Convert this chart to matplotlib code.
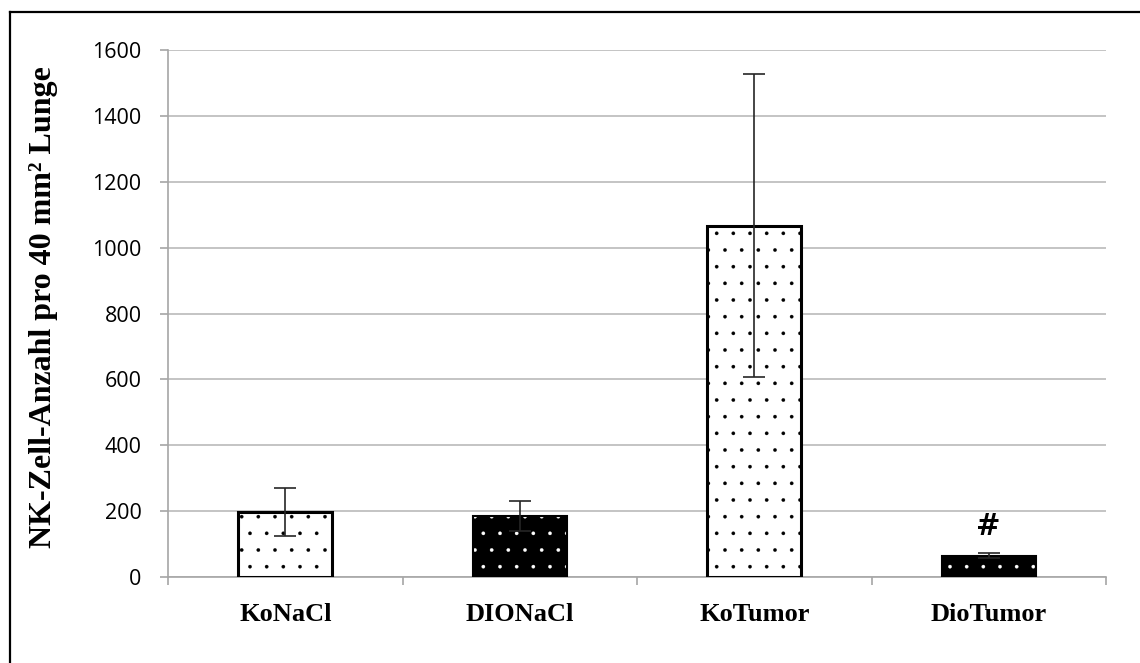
import matplotlib.pyplot as plt
from matplotlib.lines import Line2D

# values
groups = ["KoNaCl", "DIONaCl", "KoTumor", "DioTumor"]
means = [197, 185, 1066, 65]
sds = [72, 46, 460, 8]
dark = [False, True, False, True]
y_ticks = [0, 200, 400, 600, 800, 1000, 1200, 1400, 1600]

plt.rcParams['hatch.linewidth'] = 0.2

fig = plt.figure(figsize=(11.4, 6.63), dpi=100)
ax = fig.add_axes([168 / 1140, 1 - 577 / 663, 938 / 1140, 527 / 663])

x = list(range(len(groups)))
grid_col = "#bfbfbf"
axis_col = "#a6a6a6"

for xi, m, d in zip(x, means, dark):
    if d:
        # black bar, white dots, black outline on top
        ax.bar(xi, m, width=0.4, facecolor="black", edgecolor="white",
               hatch=".", linewidth=0, zorder=3)
        ax.bar(xi, m, width=0.4, fill=False, edgecolor="black",
               linewidth=1.5, zorder=4)
    else:
        ax.bar(xi, m, width=0.4, facecolor="white", edgecolor="black",
               hatch=".", linewidth=2.2, zorder=3)

ax.errorbar(x, means, yerr=sds, fmt="none", ecolor="#262626",
            elinewidth=1.2, capsize=8, capthick=1.2, zorder=5)

# significance marker
ax.text(3, 152, "#", ha="center", va="center", fontsize=21,
        fontweight="bold", family="DejaVu Serif", zorder=6)

ax.set_xlim(-0.5, 3.5)
ax.set_ylim(0, 1600)
ax.set_yticks(y_ticks)
ax.set_yticklabels([str(v) for v in y_ticks], family="Open Sans", fontsize=15.5)
ax.set_xticks(x)
ax.set_xticklabels(groups, family="Liberation Serif", fontweight="bold",
                   fontsize=19)
ax.set_xticks([-0.5, 0.5, 1.5, 2.5, 3.5], minor=True)
ax.tick_params(axis="x", which="major", length=0, pad=19)
ax.tick_params(axis="x", which="minor", length=6, color=axis_col, width=1.2)
ax.tick_params(axis="y", length=6, color=axis_col, width=1.2, pad=13)

ax.yaxis.grid(True, color=grid_col, linewidth=1.3, zorder=0)
ax.set_axisbelow(True)
for s in ["top", "right"]:
    ax.spines[s].set_visible(False)
for s in ["left", "bottom"]:
    ax.spines[s].set_color(axis_col)
    ax.spines[s].set_linewidth(1.2)

fig.text(44 / 1140, 1 - 307 / 663, "NK-Zell-Anzahl pro 40 mm² Lunge",
         rotation=90, ha="center", va="center", family="Liberation Serif",
         fontweight="bold", fontsize=23)

# frame around the chart (top and left edges visible in the reference)
fig.add_artist(Line2D([10 / 1140, 1], [1 - 12 / 663, 1 - 12 / 663],
                      transform=fig.transFigure, color="black", linewidth=1.6))
fig.add_artist(Line2D([10 / 1140, 10 / 1140], [0, 1 - 12 / 663],
                      transform=fig.transFigure, color="black", linewidth=1.6))

fig.savefig("out.png", dpi=100)
